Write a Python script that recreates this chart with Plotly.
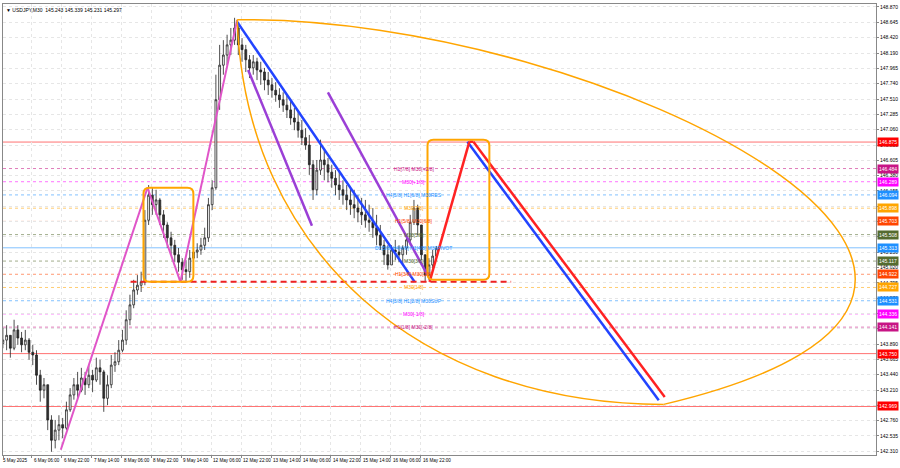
import plotly.graph_objects as go

# ---------------- data ----------------
# H2 candles (each spans 4 M30 bars), USDJPY
close = [143.95,144.02,143.83,144.10,143.98,143.88,143.95,143.77,143.73,143.43,
         143.21,143.29,142.77,142.47,142.62,142.70,142.65,142.92,143.14,143.29,
         143.21,143.39,143.29,143.43,143.36,143.54,143.48,143.09,143.29,143.58,
         143.63,143.80,143.95,144.25,144.47,144.69,144.76,144.81,145.72,146.09,
         145.95,146.02,145.80,145.65,145.46,145.35,145.21,145.10,144.99,144.96,
         145.16,145.25,145.28,145.35,145.46,145.95,146.20,147.50,148.01,148.16,
         148.31,148.38,148.56,148.31,148.24,148.09,147.97,148.06,147.94,147.91,
         147.79,147.72,147.64,147.57,147.50,147.42,147.35,147.23,147.17,147.05,
         146.94,146.83,146.54,146.17,146.46,146.61,146.54,146.43,146.34,146.24,
         146.17,146.09,146.02,145.95,145.90,145.84,145.80,145.72,145.69,145.61,
         145.50,145.35,145.21,145.06,145.28,145.25,145.21,145.31,145.43,145.69,
         145.90,145.65,145.21,144.91,145.06,145.19,145.30]
high = [144.13,144.17,143.98,144.25,144.17,144.07,144.10,143.98,143.88,143.80,
        143.51,143.39,143.29,142.84,142.77,142.84,142.80,143.04,143.24,143.39,
        143.48,143.54,143.48,143.58,143.51,143.69,143.66,143.51,143.43,143.73,
        143.77,143.95,144.10,144.39,144.62,144.84,144.91,144.96,145.87,146.24,
        146.20,146.17,146.05,145.87,145.69,145.55,145.43,145.31,145.16,145.13,
        145.28,145.35,145.38,145.46,145.61,146.05,146.31,147.87,148.31,148.38,
        148.46,148.56,148.71,148.60,148.41,148.31,148.16,148.16,148.12,148.06,
        147.97,147.91,147.82,147.76,147.67,147.61,147.56,147.50,147.38,147.32,
        147.20,147.08,146.98,146.61,146.61,146.91,146.76,146.64,146.54,146.46,
        146.43,146.31,146.24,146.20,146.17,146.09,146.05,146.02,145.95,145.90,
        145.80,145.65,145.43,145.35,145.35,145.43,145.35,145.35,145.50,145.80,
        146.02,145.95,145.65,145.21,145.16,145.28,145.34]
low = [143.83,143.80,143.69,143.80,143.88,143.77,143.80,143.66,143.58,143.29,
       143.04,143.09,142.62,142.30,142.35,142.47,142.50,142.62,142.89,143.07,
       143.09,143.18,143.14,143.24,143.18,143.33,143.29,142.89,142.99,143.24,
       143.48,143.58,143.77,143.88,144.17,144.42,144.62,144.66,144.76,145.65,
       145.80,145.80,145.65,145.46,145.31,145.21,145.10,144.96,144.84,144.81,
       144.87,145.10,145.16,145.21,145.28,145.40,145.87,146.17,147.35,147.87,
       148.01,148.16,148.31,148.16,148.06,147.91,147.82,147.87,147.79,147.72,
       147.64,147.57,147.53,147.47,147.38,147.32,147.23,147.13,147.05,146.94,
       146.83,146.76,146.39,146.02,146.09,146.39,146.31,146.28,146.20,146.09,
       146.02,145.95,145.87,145.80,145.75,145.69,145.65,145.61,145.55,145.46,
       145.35,145.28,145.06,144.99,145.06,145.13,145.10,145.06,145.21,145.35,
       145.65,145.50,145.13,144.81,144.84,145.01,145.16]
first_open = 143.90

time_labels = ["5 May 2025", "6 May 06:00", "6 May 22:00", "7 May 14:00", "8 May 06:00",
               "8 May 22:00", "9 May 14:00", "12 May 06:00", "12 May 22:00", "13 May 14:00",
               "14 May 06:00", "14 May 22:00", "15 May 14:00", "16 May 06:00", "16 May 22:00"]
time_label_bars = [2.2, 33, 65, 97, 129, 161, 193, 225, 257, 289, 321, 353, 385, 417, 449]

price_ticks = [148.870, 148.645, 148.420, 148.190, 147.965, 147.740, 147.510, 147.285,
               147.060, 146.830, 146.605, 146.380, 146.155, 145.930, 145.700, 145.475,
               145.250, 145.020, 144.795, 144.570, 144.340, 144.115, 143.890, 143.665,
               143.440, 143.210, 142.985, 142.760, 142.535, 142.310]

level_prices = [146.875, 146.484, 146.289, 146.094, 145.898, 145.703, 145.508, 145.313,
                145.117, 144.922, 144.727, 144.531, 144.336, 144.141, 143.750, 142.969]
level_colors = ["#ff0000", "#c71585", "#ff00ff", "#1e90ff", "#ffa500", "#ff4500", "#556b2f",
                "#1e90ff", "#556b2f", "#ff4500", "#ffa500", "#1e90ff", "#ff00ff", "#c71585",
                "#ff0000", "#ff0000"]
level_dash = ["solid", "dash", "dash", "dash", "dash", "dash", "dash", "solid",
              "dash", "dash", "dash", "dash", "dash", "dash", "solid", "solid"]
level_text = ["", "H1[7/8] M30[+2/8]", "M30[+1/8]", "H4[5/8] H1[6/8] M30RES", "M30[7/8]",
              "H1[5/8] M30[6/8]", "M30[5/8]", "D1[5/8] H4[4/8] H1[4/8] M30PIVOT", "M30[3/8]",
              "H1[3/8] M30[2/8]", "M30[1/8]", "H4[3/8] H1[2/8] M30SUP", "M30[-1/8]",
              "H1[1/8] M30[-2/8]", "", ""]
level_text_bar = 441.6

# drawing anchors (M30 bar index, price)
pink_bars = [64, 156.8, 192, 252.8]
pink_prices = [142.33, 146.20, 144.81, 148.68]
blue_main = ([252.8, 442.7], [148.65, 144.81])
blue_proj = ([499.2, 704.0], [146.88, 143.06])
purple1 = ([264.5, 332.8], [147.94, 145.64])
purple2 = ([349.9, 456.5], [147.61, 144.91])
red_path_bars = [458.7, 501.3, 505.6, 710.4]
red_path_prices = [144.81, 146.88, 146.88, 143.11]
red_dash = ([138.7, 546.0], [144.81, 144.81])
box1 = ([152.5, 205.9], [144.81, 146.20])
box2 = ([456.5, 522.7], [144.84, 146.91])
arc_outer = ([252.8, 640.0, 1230.0, 709.3], [148.68, 148.75, 144.70, 143.00])
arc_inner = ([252.8, 261.3, 448.0, 709.3], [148.68, 145.28, 143.00, 143.00])

header = "\u25BC USDJPY,M30  145.243 145.339 145.231 145.297"

# ---------------- figure ----------------
W, H = 900, 468
ML, MR, MT, MB = 2, 22, 4, 13
x_range = [2 / 0.9375, 878 / 0.9375]
y_range = [142.2525, 148.914]
px_per_bar = (W - ML - MR) / (x_range[1] - x_range[0])
px_per_price = (H - MT - MB) / (y_range[1] - y_range[0])

opens = [first_open] + close[:-1]
hi = [max(h, o, c) for h, o, c in zip(high, opens, close)]
lo = [min(l, o, c) for l, o, c in zip(low, opens, close)]
xs = [4 * j + 2 for j in range(len(close))]

fig = go.Figure()
fig.add_trace(go.Candlestick(
    x=xs, open=opens, high=hi, low=lo, close=close,
    increasing=dict(line=dict(color="#222222", width=0.8), fillcolor="#ffffff"),
    decreasing=dict(line=dict(color="#222222", width=0.8), fillcolor="#333333"),
    whiskerwidth=0, showlegend=False, hoverinfo="skip"))

shapes = []
for p, c, d in zip(level_prices, level_colors, level_dash):
    shapes.append(dict(type="line", xref="paper", x0=0, x1=1, yref="y", y0=p, y1=p,
                       line=dict(color=c, width=1, dash="solid" if d == "solid" else "3px,3px"),
                       opacity=0.55, layer="below"))


def seg(xs_, ys_, color, width=2, dash="solid"):
    for i in range(len(xs_) - 1):
        shapes.append(dict(type="line", xref="x", yref="y", x0=xs_[i], y0=ys_[i],
                           x1=xs_[i + 1], y1=ys_[i + 1],
                           line=dict(color=color, width=width, dash=dash)))


def rbox(bx, by, color):
    rx = 6 / px_per_bar
    ry = 6 / px_per_price
    x0, x1 = bx
    y0, y1 = by
    path = (f"M {x0+rx},{y1} L {x1-rx},{y1} Q {x1},{y1} {x1},{y1-ry} L {x1},{y0+ry} "
            f"Q {x1},{y0} {x1-rx},{y0} L {x0+rx},{y0} Q {x0},{y0} {x0},{y0+ry} "
            f"L {x0},{y1-ry} Q {x0},{y1} {x0+rx},{y1} Z")
    shapes.append(dict(type="path", xref="x", yref="y", path=path,
                       line=dict(color=color, width=2)))


def arc(a, color):
    bx, by = a
    path = f"M {bx[0]},{by[0]} C {bx[1]},{by[1]} {bx[2]},{by[2]} {bx[3]},{by[3]}"
    shapes.append(dict(type="path", xref="x", yref="y", path=path,
                       line=dict(color=color, width=1.5)))


seg(pink_bars, pink_prices, "#e055c8", 2)
seg(*purple1, "#9b3fd6", 2.5)
seg(*purple2, "#9b3fd6", 2.5)
seg(*blue_main, "#2244ff", 2.5)
seg(*blue_proj, "#2244ff", 2.5)
seg(red_path_bars, red_path_prices, "#ff2222", 2.5)
seg(*red_dash, "#ee2222", 2, "6px,4px")
rbox(box1[0], box1[1], "#ffa500")
rbox(box2[0], box2[1], "#ffa500")
arc(arc_outer, "#ffa500")
arc(arc_inner, "#ffa500")

annotations = []
for p, c, t in zip(level_prices, level_colors, level_text):
    if t:
        annotations.append(dict(x=level_text_bar, y=p, xref="x", yref="y", text=t,
                                showarrow=False, xanchor="center", yanchor="middle",
                                font=dict(family="Liberation Sans", size=5, color=c)))
    annotations.append(dict(x=1, y=p, xref="paper", yref="y", text=f"{p:.3f}",
                            showarrow=False, xanchor="left", yanchor="middle", xshift=1,
                            bgcolor=c, borderpad=1,
                            font=dict(family="Liberation Sans", size=5, color="#ffffff")))
for b, t in zip(time_label_bars, time_labels):
    annotations.append(dict(x=b, y=0, xref="x", yref="paper", text=t, showarrow=False,
                            xanchor="left", yanchor="top", yshift=-1,
                            xshift=-2 if b < 3 else 0,
                            font=dict(family="Liberation Sans", size=4.6, color="#000000")))
annotations.append(dict(x=0, y=1, xref="paper", yref="paper", text=header, showarrow=False,
                        xanchor="left", yanchor="top", xshift=1, yshift=-1,
                        font=dict(family="Liberation Sans", size=5, color="#000000")))

fig.update_layout(
    width=W, height=H, margin=dict(l=ML, r=MR, t=MT, b=MB),
    paper_bgcolor="#ffffff", plot_bgcolor="#ffffff",
    shapes=shapes, annotations=annotations, showlegend=False,
    xaxis=dict(range=x_range, tickvals=time_label_bars, showticklabels=False,
               ticks="outside", ticklen=2, tickcolor="#888888",
               showgrid=True, gridcolor="#e6e6e6", griddash="dot",
               showline=True, linecolor="#888888", mirror=True,
               rangeslider=dict(visible=False), zeroline=False, fixedrange=True),
    yaxis=dict(range=y_range, side="right", tickvals=price_ticks,
               ticktext=[f"{v:.3f}" for v in price_ticks],
               tickfont=dict(family="Liberation Sans", size=5, color="#000000"),
               ticks="outside", ticklen=2, tickcolor="#888888",
               showgrid=True, gridcolor="#e6e6e6", griddash="dot",
               showline=True, linecolor="#888888", mirror=True, zeroline=False,
               fixedrange=True),
)

fig.write_html("out.html", config={"displayModeBar": False},
               post_script="document.body.style.margin='0';document.body.style.padding='0';"
                           "document.body.style.overflow='hidden';")
